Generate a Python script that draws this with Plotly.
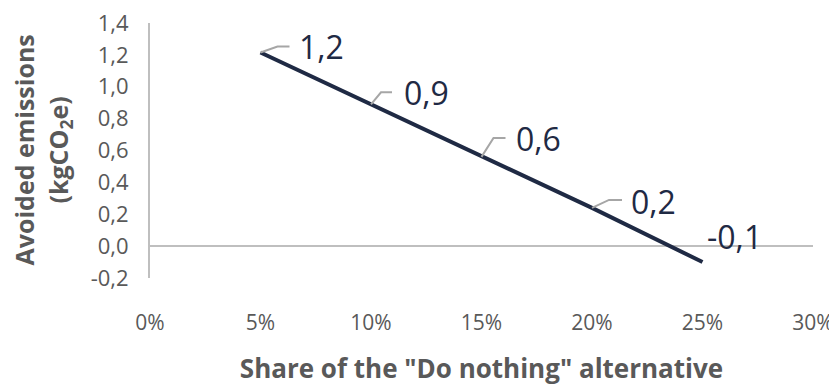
import plotly.graph_objects as go

share = [0.05, 0.10, 0.15, 0.20, 0.25]
avoided = [1.215, 0.89, 0.56, 0.24, -0.10]
x_ticks = [0, 0.05, 0.10, 0.15, 0.20, 0.25, 0.30]
y_ticks = [-0.2, 0.0, 0.2, 0.4, 0.6, 0.8, 1.0, 1.2, 1.4]
y_title_lines = ["Avoided emissions", "(kgCO<sub>2</sub>e)"]
x_title = "Share of the \"Do nothing\" alternative"

# label styling (pixel offsets from each point)
lead_dx = [17, 10, 12, 17, None]
lead_dy = [6, 12, 19, 8, None]
lead_h = [12, 11, 12, 13, None]
lab_dx = [36, 31, 32, 37, 2]
lab_dy = [6, 12, 18, 6, 26]
ytitle_shift = [-127, -91]

NAVY = "#1F2A44"
GRAY = "#595959"
LIGHT = "#BFBFBF"
FONT = "Open Sans"

fig = go.Figure()
fig.add_trace(go.Scatter(x=share, y=avoided, mode="lines",
                         line=dict(color=NAVY, width=4), hoverinfo="skip"))

for i, (xv, yv) in enumerate(zip(share, avoided)):
    txt = f"{yv:.1f}".replace(".", ",")
    fig.add_annotation(x=xv, y=yv, text=txt, showarrow=False,
                       xanchor="left", yanchor="middle",
                       xshift=lab_dx[i], yshift=lab_dy[i],
                       font=dict(family=FONT, size=32, color=NAVY))
    if lead_dx[i] is not None:
        dx, dy, h = lead_dx[i], lead_dy[i], lead_h[i]
        fig.add_shape(type="path", xref="x", yref="y",
                      xsizemode="pixel", ysizemode="pixel",
                      xanchor=xv, yanchor=yv,
                      path=f"M 0 0 L {dx} {dy} L {dx + h} {dy}",
                      line=dict(color="#A6A6A6", width=2))

for t, s in zip(y_title_lines, ytitle_shift):
    fig.add_annotation(xref="paper", yref="paper", x=0, y=0.5,
                       text=f"<b>{t}</b>", textangle=-90, showarrow=False,
                       xanchor="center", yanchor="middle", xshift=s,
                       font=dict(family=FONT, size=25, color=GRAY))

fig.update_layout(
    width=837, height=388,
    margin=dict(l=142, r=32, t=15, b=118),
    paper_bgcolor="white", plot_bgcolor="white",
    separators=",.",
    showlegend=False,
    font=dict(family=FONT, color=GRAY),
)
fig.update_xaxes(range=[0, 0.30], tickvals=x_ticks,
                 ticktext=[f"{v * 100:.0f}%" for v in x_ticks],
                 automargin=False, ticklabeloverflow="allow",
                 showgrid=False, zeroline=False, showline=False,
                 ticks="", ticklabelstandoff=30,
                 tickfont=dict(family=FONT, size=21, color=GRAY),
                 title=dict(text=f"<b>{x_title}</b>",
                            font=dict(family=FONT, size=26, color=GRAY),
                            standoff=24))
fig.update_yaxes(range=[-0.2, 1.4], tickvals=y_ticks,
                 ticktext=[f"{v:.1f}".replace(".", ",") for v in y_ticks],
                 automargin=False, ticklabeloverflow="allow",
                 showgrid=False, zeroline=True, zerolinecolor=LIGHT, zerolinewidth=2,
                 showline=True, linecolor=LIGHT, linewidth=2,
                 ticks="", ticklabelstandoff=15,
                 tickfont=dict(family=FONT, size=22, color=GRAY))

fig.write_html("out.html")
